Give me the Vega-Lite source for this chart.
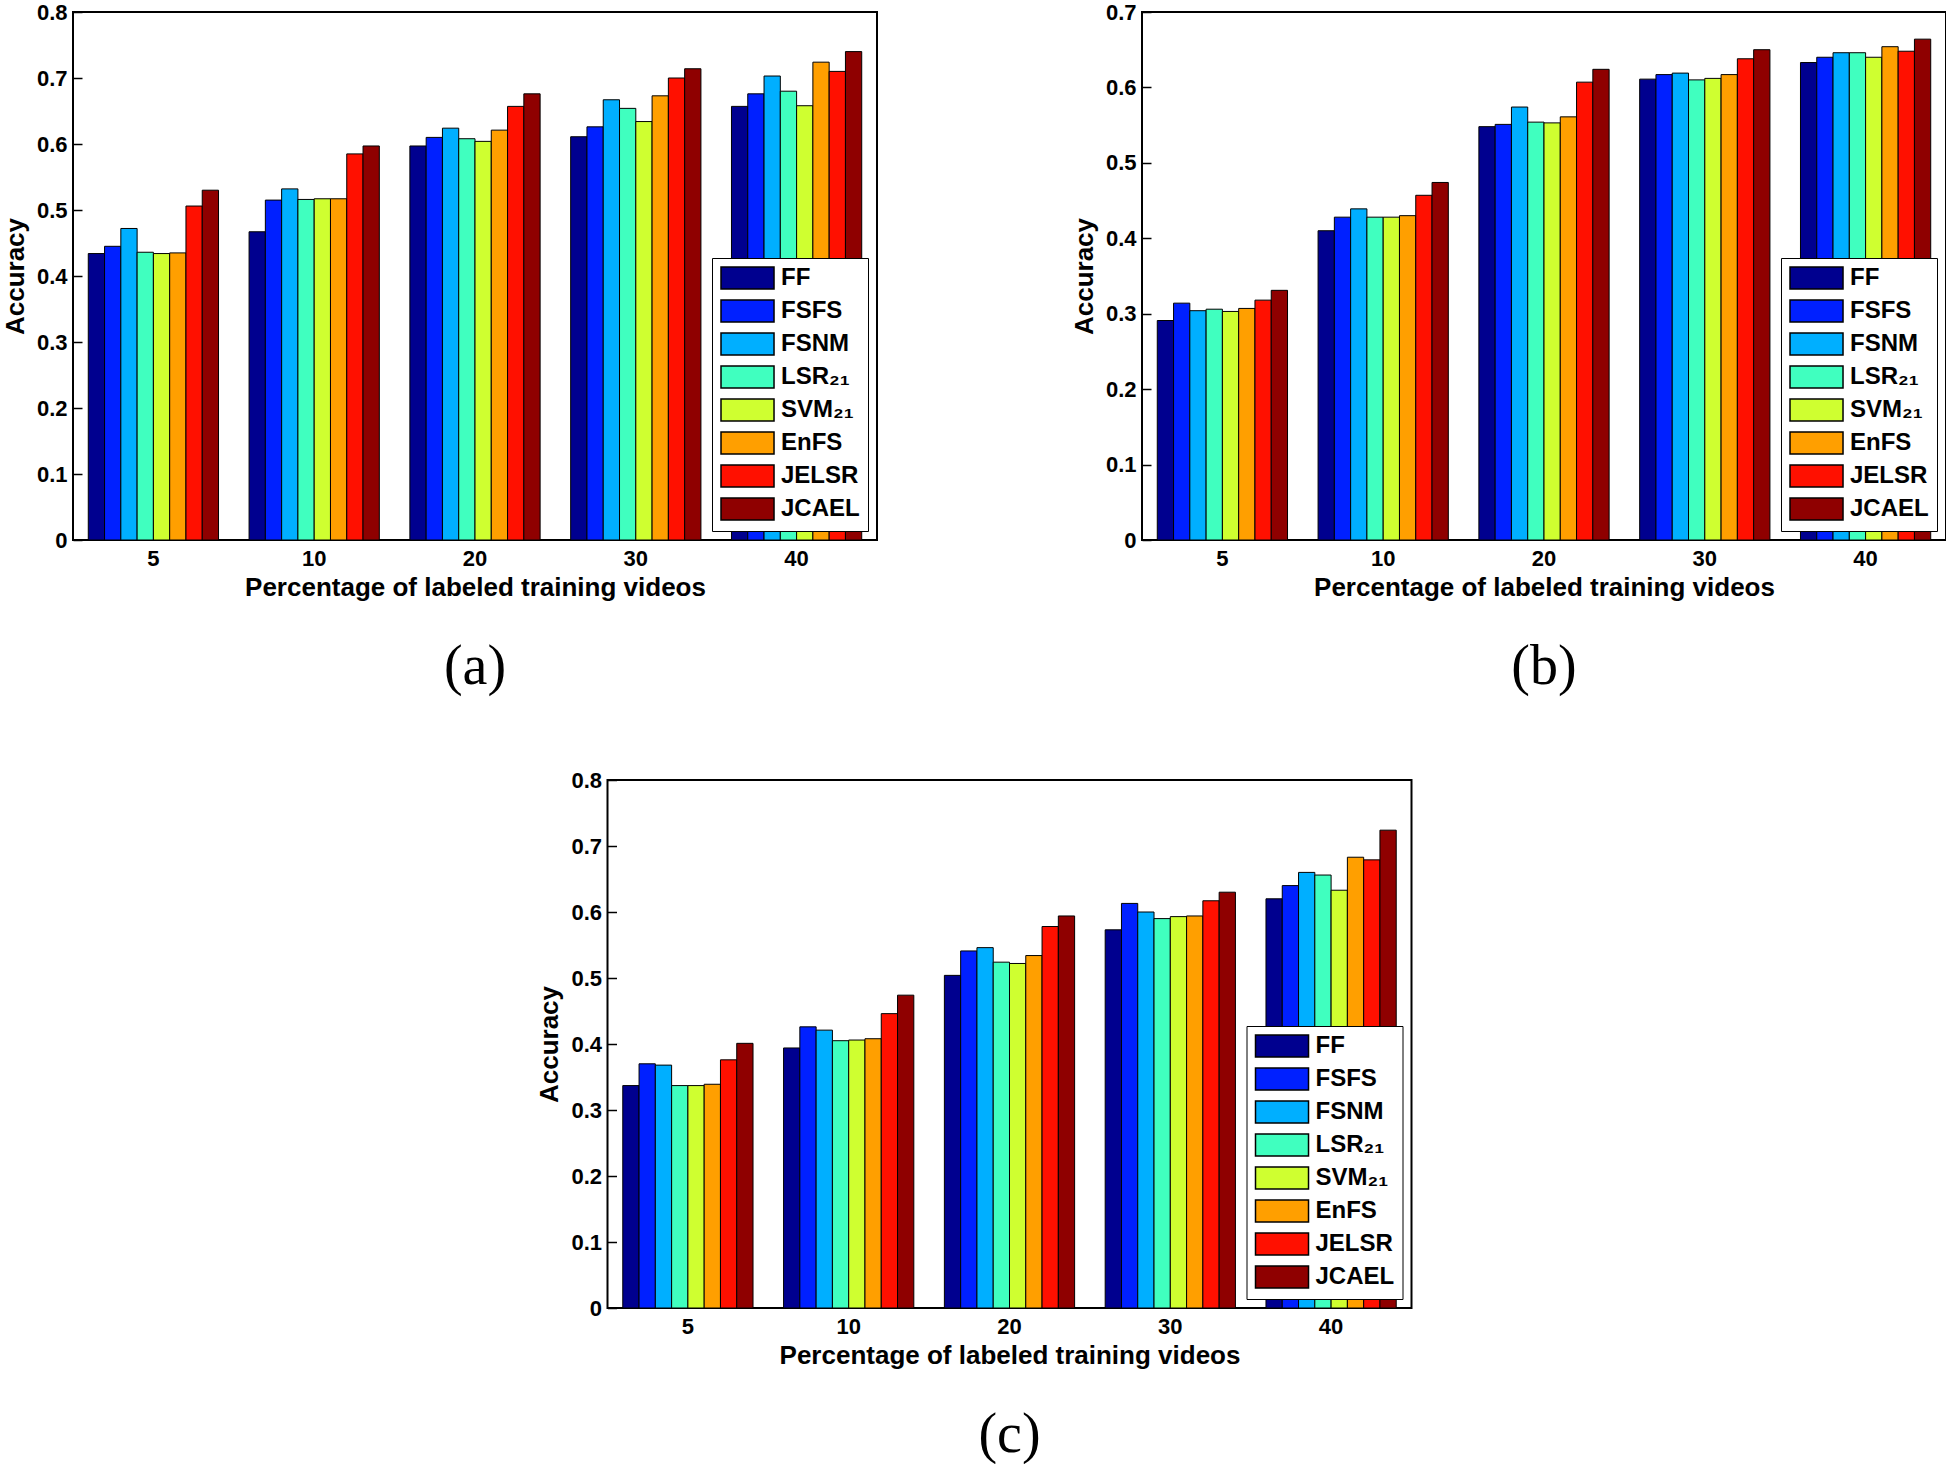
{
  "$schema": "https://vega.github.io/schema/vega-lite/v6.json",
  "padding": {"left": 1, "top": 0, "right": 0, "bottom": 0},
  "background": "white",
  "datasets": {
    "a": [
      {"p": 5, "m": "FF", "v": 0.434}, {"p": 5, "m": "FSFS", "v": 0.445}, {"p": 5, "m": "FSNM", "v": 0.472}, {"p": 5, "m": "LSR₂₁", "v": 0.436}, {"p": 5, "m": "SVM₂₁", "v": 0.434}, {"p": 5, "m": "EnFS", "v": 0.435}, {"p": 5, "m": "JELSR", "v": 0.506}, {"p": 5, "m": "JCAEL", "v": 0.530},
      {"p": 10, "m": "FF", "v": 0.467}, {"p": 10, "m": "FSFS", "v": 0.515}, {"p": 10, "m": "FSNM", "v": 0.532}, {"p": 10, "m": "LSR₂₁", "v": 0.516}, {"p": 10, "m": "SVM₂₁", "v": 0.517}, {"p": 10, "m": "EnFS", "v": 0.517}, {"p": 10, "m": "JELSR", "v": 0.585}, {"p": 10, "m": "JCAEL", "v": 0.597},
      {"p": 20, "m": "FF", "v": 0.597}, {"p": 20, "m": "FSFS", "v": 0.610}, {"p": 20, "m": "FSNM", "v": 0.624}, {"p": 20, "m": "LSR₂₁", "v": 0.608}, {"p": 20, "m": "SVM₂₁", "v": 0.604}, {"p": 20, "m": "EnFS", "v": 0.621}, {"p": 20, "m": "JELSR", "v": 0.657}, {"p": 20, "m": "JCAEL", "v": 0.676},
      {"p": 30, "m": "FF", "v": 0.611}, {"p": 30, "m": "FSFS", "v": 0.626}, {"p": 30, "m": "FSNM", "v": 0.667}, {"p": 30, "m": "LSR₂₁", "v": 0.654}, {"p": 30, "m": "SVM₂₁", "v": 0.634}, {"p": 30, "m": "EnFS", "v": 0.673}, {"p": 30, "m": "JELSR", "v": 0.700}, {"p": 30, "m": "JCAEL", "v": 0.714},
      {"p": 40, "m": "FF", "v": 0.657}, {"p": 40, "m": "FSFS", "v": 0.676}, {"p": 40, "m": "FSNM", "v": 0.703}, {"p": 40, "m": "LSR₂₁", "v": 0.680}, {"p": 40, "m": "SVM₂₁", "v": 0.658}, {"p": 40, "m": "EnFS", "v": 0.724}, {"p": 40, "m": "JELSR", "v": 0.710}, {"p": 40, "m": "JCAEL", "v": 0.740}
    ],
    "b": [
      {"p": 5, "m": "FF", "v": 0.291}, {"p": 5, "m": "FSFS", "v": 0.314}, {"p": 5, "m": "FSNM", "v": 0.304}, {"p": 5, "m": "LSR₂₁", "v": 0.306}, {"p": 5, "m": "SVM₂₁", "v": 0.303}, {"p": 5, "m": "EnFS", "v": 0.307}, {"p": 5, "m": "JELSR", "v": 0.318}, {"p": 5, "m": "JCAEL", "v": 0.331},
      {"p": 10, "m": "FF", "v": 0.410}, {"p": 10, "m": "FSFS", "v": 0.428}, {"p": 10, "m": "FSNM", "v": 0.439}, {"p": 10, "m": "LSR₂₁", "v": 0.428}, {"p": 10, "m": "SVM₂₁", "v": 0.428}, {"p": 10, "m": "EnFS", "v": 0.430}, {"p": 10, "m": "JELSR", "v": 0.457}, {"p": 10, "m": "JCAEL", "v": 0.474},
      {"p": 20, "m": "FF", "v": 0.548}, {"p": 20, "m": "FSFS", "v": 0.551}, {"p": 20, "m": "FSNM", "v": 0.574}, {"p": 20, "m": "LSR₂₁", "v": 0.554}, {"p": 20, "m": "SVM₂₁", "v": 0.553}, {"p": 20, "m": "EnFS", "v": 0.561}, {"p": 20, "m": "JELSR", "v": 0.607}, {"p": 20, "m": "JCAEL", "v": 0.624},
      {"p": 30, "m": "FF", "v": 0.611}, {"p": 30, "m": "FSFS", "v": 0.617}, {"p": 30, "m": "FSNM", "v": 0.619}, {"p": 30, "m": "LSR₂₁", "v": 0.610}, {"p": 30, "m": "SVM₂₁", "v": 0.612}, {"p": 30, "m": "EnFS", "v": 0.617}, {"p": 30, "m": "JELSR", "v": 0.638}, {"p": 30, "m": "JCAEL", "v": 0.650},
      {"p": 40, "m": "FF", "v": 0.633}, {"p": 40, "m": "FSFS", "v": 0.640}, {"p": 40, "m": "FSNM", "v": 0.646}, {"p": 40, "m": "LSR₂₁", "v": 0.646}, {"p": 40, "m": "SVM₂₁", "v": 0.640}, {"p": 40, "m": "EnFS", "v": 0.654}, {"p": 40, "m": "JELSR", "v": 0.648}, {"p": 40, "m": "JCAEL", "v": 0.664}
    ],
    "c": [
      {"p": 5, "m": "FF", "v": 0.337}, {"p": 5, "m": "FSFS", "v": 0.370}, {"p": 5, "m": "FSNM", "v": 0.368}, {"p": 5, "m": "LSR₂₁", "v": 0.337}, {"p": 5, "m": "SVM₂₁", "v": 0.337}, {"p": 5, "m": "EnFS", "v": 0.339}, {"p": 5, "m": "JELSR", "v": 0.376}, {"p": 5, "m": "JCAEL", "v": 0.401},
      {"p": 10, "m": "FF", "v": 0.394}, {"p": 10, "m": "FSFS", "v": 0.426}, {"p": 10, "m": "FSNM", "v": 0.421}, {"p": 10, "m": "LSR₂₁", "v": 0.405}, {"p": 10, "m": "SVM₂₁", "v": 0.406}, {"p": 10, "m": "EnFS", "v": 0.408}, {"p": 10, "m": "JELSR", "v": 0.446}, {"p": 10, "m": "JCAEL", "v": 0.474},
      {"p": 20, "m": "FF", "v": 0.504}, {"p": 20, "m": "FSFS", "v": 0.541}, {"p": 20, "m": "FSNM", "v": 0.546}, {"p": 20, "m": "LSR₂₁", "v": 0.524}, {"p": 20, "m": "SVM₂₁", "v": 0.522}, {"p": 20, "m": "EnFS", "v": 0.534}, {"p": 20, "m": "JELSR", "v": 0.578}, {"p": 20, "m": "JCAEL", "v": 0.594},
      {"p": 30, "m": "FF", "v": 0.573}, {"p": 30, "m": "FSFS", "v": 0.613}, {"p": 30, "m": "FSNM", "v": 0.600}, {"p": 30, "m": "LSR₂₁", "v": 0.590}, {"p": 30, "m": "SVM₂₁", "v": 0.593}, {"p": 30, "m": "EnFS", "v": 0.594}, {"p": 30, "m": "JELSR", "v": 0.617}, {"p": 30, "m": "JCAEL", "v": 0.630},
      {"p": 40, "m": "FF", "v": 0.620}, {"p": 40, "m": "FSFS", "v": 0.640}, {"p": 40, "m": "FSNM", "v": 0.660}, {"p": 40, "m": "LSR₂₁", "v": 0.656}, {"p": 40, "m": "SVM₂₁", "v": 0.633}, {"p": 40, "m": "EnFS", "v": 0.683}, {"p": 40, "m": "JELSR", "v": 0.679}, {"p": 40, "m": "JCAEL", "v": 0.724}
    ]
  },
  "vconcat": [
    {
      "hconcat": [
        {
          "width": 804, "height": 528,
          "data": {"name": "a"},
          "title": {"text": "(a)"},
          "mark": {"type": "bar", "stroke": "black", "strokeWidth": 1},
          "encoding": {
            "x": {"field": "p", "type": "ordinal", "sort": [5, 10, 20, 30, 40], "scale": {"paddingInner": 0.19, "paddingOuter": 0.095}, "axis": {"orient": "bottom", "title": "Percentage of labeled training videos"}},
            "xOffset": {"field": "m", "type": "nominal", "sort": ["FF", "FSFS", "FSNM", "LSR₂₁", "SVM₂₁", "EnFS", "JELSR", "JCAEL"], "scale": {"paddingInner": 0, "paddingOuter": 0}},
            "y": {"field": "v", "type": "quantitative", "scale": {"domain": [0, 0.8], "nice": false}, "axis": {"orient": "left", "title": "Accuracy", "values": [0, 0.1, 0.2, 0.3, 0.4, 0.5, 0.6, 0.7, 0.8], "format": ".1~f"}},
            "color": {"field": "m", "type": "nominal", "scale": {"domain": ["FF", "FSFS", "FSNM", "LSR₂₁", "SVM₂₁", "EnFS", "JELSR", "JCAEL"], "range": ["#00008F", "#0020FF", "#00AFFF", "#40FFBF", "#CFFF30", "#FF9F00", "#FF1000", "#8F0000"]}, "legend": {"title": null}}
          }
        },
        {
          "width": 804, "height": 528,
          "data": {"name": "b"},
          "title": {"text": "(b)"},
          "mark": {"type": "bar", "stroke": "black", "strokeWidth": 1},
          "encoding": {
            "x": {"field": "p", "type": "ordinal", "sort": [5, 10, 20, 30, 40], "scale": {"paddingInner": 0.19, "paddingOuter": 0.095}, "axis": {"orient": "bottom", "title": "Percentage of labeled training videos"}},
            "xOffset": {"field": "m", "type": "nominal", "sort": ["FF", "FSFS", "FSNM", "LSR₂₁", "SVM₂₁", "EnFS", "JELSR", "JCAEL"], "scale": {"paddingInner": 0, "paddingOuter": 0}},
            "y": {"field": "v", "type": "quantitative", "scale": {"domain": [0, 0.7], "nice": false}, "axis": {"orient": "left", "title": "Accuracy", "values": [0, 0.1, 0.2, 0.3, 0.4, 0.5, 0.6, 0.7], "format": ".1~f"}},
            "color": {"field": "m", "type": "nominal", "scale": {"domain": ["FF", "FSFS", "FSNM", "LSR₂₁", "SVM₂₁", "EnFS", "JELSR", "JCAEL"], "range": ["#00008F", "#0020FF", "#00AFFF", "#40FFBF", "#CFFF30", "#FF9F00", "#FF1000", "#8F0000"]}, "legend": {"title": null}}
          }
        }
      ],
      "spacing": 192,
      "resolve": {"scale": {"color": "independent"}, "legend": {"color": "independent"}}
    },
    {
      "width": 804, "height": 528,
      "data": {"name": "c"},
      "title": {"text": "(c)"},
      "mark": {"type": "bar", "stroke": "black", "strokeWidth": 1},
      "encoding": {
        "x": {"field": "p", "type": "ordinal", "sort": [5, 10, 20, 30, 40], "scale": {"paddingInner": 0.19, "paddingOuter": 0.095}, "axis": {"orient": "bottom", "title": "Percentage of labeled training videos"}},
        "xOffset": {"field": "m", "type": "nominal", "sort": ["FF", "FSFS", "FSNM", "LSR₂₁", "SVM₂₁", "EnFS", "JELSR", "JCAEL"], "scale": {"paddingInner": 0, "paddingOuter": 0}},
        "y": {"field": "v", "type": "quantitative", "scale": {"domain": [0, 0.8], "nice": false}, "axis": {"orient": "left", "title": "Accuracy", "values": [0, 0.1, 0.2, 0.3, 0.4, 0.5, 0.6, 0.7, 0.8], "format": ".1~f"}},
        "color": {"field": "m", "type": "nominal", "scale": {"domain": ["FF", "FSFS", "FSNM", "LSR₂₁", "SVM₂₁", "EnFS", "JELSR", "JCAEL"], "range": ["#00008F", "#0020FF", "#00AFFF", "#40FFBF", "#CFFF30", "#FF9F00", "#FF1000", "#8F0000"]}, "legend": {"title": null}}
      }
    }
  ],
  "spacing": 72,
  "center": true,
  "resolve": {"scale": {"color": "independent"}, "legend": {"color": "independent"}},
  "config": {
    "font": "Liberation Sans",
    "view": {"stroke": "black", "strokeWidth": 2},
    "axis": {
      "labelFont": "Liberation Sans", "labelFontSize": 22, "labelFontWeight": "bold", "labelColor": "black",
      "titleFont": "Liberation Sans", "titleFontSize": 26, "titleFontWeight": "bold", "titleColor": "black",
      "tickColor": "black", "tickWidth": 1.5, "tickSize": -9, "labelPadding": 15,
      "domain": false, "grid": false, "titlePadding": 8
    },
    "axisX": {"labelAngle": 0, "labelPadding": 17, "titlePadding": 5},
    "legend": {
      "orient": "bottom-right", "offset": 9, "padding": 8,
      "strokeColor": "black", "fillColor": "white",
      "labelFont": "Liberation Sans", "labelFontSize": 24, "labelFontWeight": "bold", "labelColor": "black",
      "symbolType": "M-1,-1H3.82V1H-1Z", "symbolSize": 484,
      "symbolStrokeColor": "black", "symbolStrokeWidth": 1.5, "symbolOpacity": 1,
      "labelOffset": 37, "rowPadding": 5
    },
    "title": {"font": "Liberation Serif", "fontSize": 56, "fontWeight": "normal", "color": "black", "orient": "bottom", "anchor": "middle", "offset": 40}
  }
}
